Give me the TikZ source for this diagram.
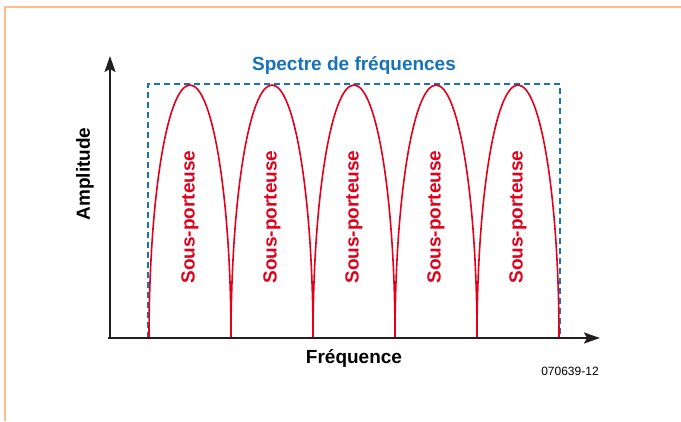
\documentclass[tikz,border=0pt]{standalone}
\usepackage{fontspec}
\setmainfont{Liberation Sans}
\usetikzlibrary{arrows.meta}
\definecolor{framec}{RGB}{250,192,140}
\definecolor{archred}{RGB}{226,0,26}
\definecolor{specblue}{RGB}{20,115,185}
\definecolor{axisc}{RGB}{35,31,32}
\tikzset{
  framestyle/.style={draw=framec, line width=1.5pt},
  axisstyle/.style={draw=axisc, line width=2pt, -{Stealth[length=16pt,width=11pt,inset=3pt]}},
  bandstyle/.style={draw=specblue, line width=1.6pt, dash pattern=on 6pt off 4pt},
  archstyle/.style={draw=archred, line width=1.6pt},
  biglabel/.style={font=\fontsize{19}{22}\selectfont\bfseries, inner sep=0pt},
  sublabel/.style={biglabel, text=archred, rotate=90},
  codelabel/.style={font=\fontsize{12}{14}\selectfont, inner sep=0pt}
}
\begin{document}
\begin{tikzpicture}[x=1pt,y=1pt]
\useasboundingbox (0,0) rectangle (681,421);
% frame
\draw[framestyle] (681,414) -- (5,414) -- (5,0);
% coordinates
\coordinate (o) at (110,83);
\coordinate (ox) at (108,83);
\coordinate (ytip) at (110,365);
\coordinate (xtip) at (600,83);
% spectrum band
\coordinate (b1) at (148,83);
\coordinate (b2) at (148,337);
\coordinate (b3) at (560,337);
\coordinate (b4) at (560,83);
\draw[bandstyle] (b1) -- (b2) -- (b3) -- (b4);
% arches
\foreach \k in {0,...,4}{
  \pgfmathsetmacro{\xf}{149+82*\k}
  \draw[archstyle] (\xf,83) arc[start angle=180, end angle=0, x radius=41, y radius=253];
  \pgfmathsetmacro{\xc}{190+82*\k}
  \node[sublabel] (sp\k) at (\xc,204) {Sous-porteuse};
}
% axes
\draw[axisstyle] (o) -- (ytip);
\draw[axisstyle] (ox) -- (xtip);
% labels
\node[biglabel, text=specblue] (title) at (354,355) {Spectre de fréquences};
\node[biglabel, rotate=90] (amp) at (85,247) {Amplitude};
\node[biglabel] (freq) at (354,62) {Fréquence};
\node[codelabel] (code) at (570,50) {070639-12};
\end{tikzpicture}
\end{document}
